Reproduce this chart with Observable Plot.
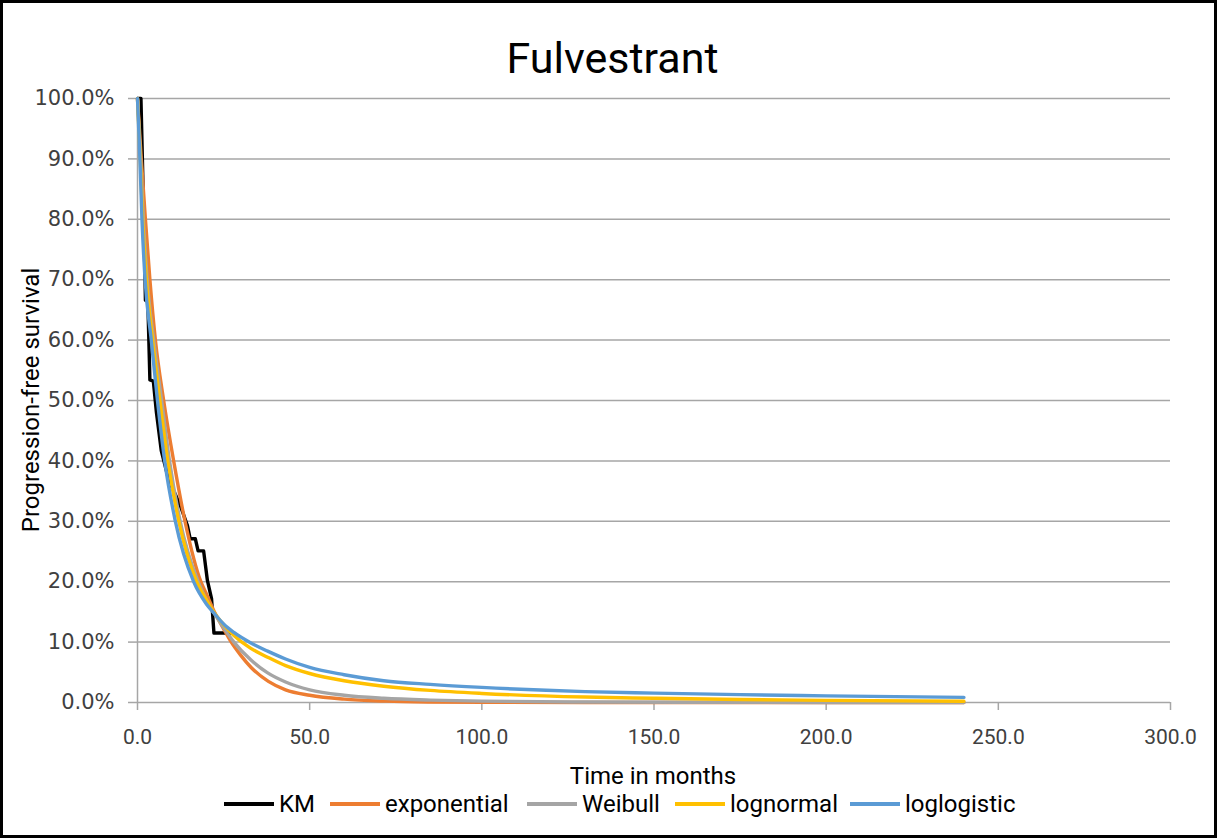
<!DOCTYPE html>
<html><head><meta charset="utf-8">
<script src="https://cdn.jsdelivr.net/npm/d3@7"></script>
<script src="https://cdn.jsdelivr.net/npm/@observablehq/plot@0.6"></script>
<style>
html,body{margin:0;padding:0;background:#fff;}
#wrap{position:relative;width:1217px;height:838px;overflow:hidden;background:#fff;}
#chart{position:absolute;left:0;top:0;}
#border{position:absolute;left:0;top:0;width:1217px;height:838px;box-sizing:border-box;border:3px solid #000;pointer-events:none;}
.title{position:absolute;left:0;width:1225px;top:30px;text-align:center;font-family:Roboto,"Noto Sans",sans-serif;font-size:43px;color:#000;line-height:56px;}
.ylab{position:absolute;left:31px;top:400px;transform:translate(-50%,-50%) rotate(-90deg);white-space:nowrap;font-family:Roboto,"Noto Sans",sans-serif;font-size:24px;color:#000;}
.xlab{position:absolute;left:0;width:1306px;top:761px;text-align:center;font-family:Roboto,"Noto Sans",sans-serif;font-size:24px;color:#000;line-height:30px;}
#legend{position:absolute;left:0;top:789px;width:1217px;height:30px;font-family:Roboto,"Noto Sans",sans-serif;font-size:24px;color:#000;}
.item{position:absolute;top:0;display:flex;align-items:center;height:30px;white-space:nowrap;}
.sw{display:inline-block;width:50px;height:4px;margin-right:5px;}
</style>
</head><body>
<div id="wrap">
  <div id="chart"></div>
  <div class="title">Fulvestrant</div>
  <div class="ylab">Progression-free survival</div>
  <div class="xlab">Time in months</div>
  <div id="legend"></div>
  <div id="border"></div>
</div>
<script>
// Kaplan-Meier (months, % surviving)
const kmTime = [0, 1.0, 1.5, 2.2, 2.3, 3.0, 3.6, 4.6, 5.5, 6.9, 9, 12.5, 14.5, 15.3, 16.8, 17.6, 19.2, 20.3, 21.5, 22.2, 27.3];
const kmSurv = [100, 100, 88, 70, 66.6, 66.4, 53.4, 53.2, 48, 41.7, 37, 32.5, 29.3, 27.1, 27.1, 25.1, 25.1, 20.2, 17.2, 11.5, 11.5];

const expTime = [0, 1.1, 2.3, 3.6, 5.2, 7.6, 10.5, 13.8, 18.4, 20, 22.5, 25, 27, 30, 33, 38, 43, 50, 60, 72, 85, 100, 130, 180, 240];
const expSurv = [100, 90, 80, 70, 60, 50, 40, 30, 20, 18, 14.8, 12.2, 10.2, 7.8, 5.8, 3.5, 2.1, 1.2, 0.55, 0.22, 0.08, 0.03, 0.01, 0, 0];

const weiTime = [0, 0.9, 1.7, 2.8, 4.7, 7.0, 9.3, 12.4, 17.6, 20, 22.5, 25, 28, 32.8, 37.8, 43, 50, 60, 71.5, 85, 100, 130, 160, 200, 240];
const weiSurv = [100, 90, 80, 70, 60, 50, 40, 30, 20, 17, 14.6, 12.4, 10, 7.1, 4.9, 3.4, 2.1, 1.2, 0.7, 0.4, 0.22, 0.08, 0.03, 0.01, 0];

const lnTime = [0, 0.8, 1.5, 2.6, 4.4, 6.5, 8.8, 12, 17.2, 20, 22.5, 25, 28, 32.8, 37.8, 43, 50, 60, 71.5, 85, 100, 130, 150, 175, 200, 240];
const lnSurv = [100, 90, 80, 70, 60, 50, 40, 30, 20, 17, 14.7, 12.9, 11.1, 9.0, 7.5, 6.1, 4.8, 3.6, 2.7, 2.0, 1.5, 0.9, 0.7, 0.5, 0.35, 0.2];

const llTime = [0, 0.7, 1.3, 2.2, 4.0, 5.8, 7.9, 11, 16.3, 20, 22.5, 25, 28, 32.8, 37.8, 43, 50, 60, 71.5, 85, 100, 130, 150, 175, 200, 240];
const llSurv = [100, 90, 80, 70, 60, 50, 40, 30, 20, 16.3, 14.6, 13.0, 11.6, 9.9, 8.5, 7.2, 5.8, 4.6, 3.6, 3.0, 2.5, 1.8, 1.55, 1.3, 1.1, 0.85];

const seriesNames = ["KM", "exponential", "Weibull", "lognormal", "loglogistic"];
const seriesColors = ["#000000", "#ED7D31", "#A5A5A5", "#FFC000", "#5B9BD5"];
const xTicks = [0, 50, 100, 150, 200, 250, 300];
const yTicks = [0, 10, 20, 30, 40, 50, 60, 70, 80, 90, 100];

const toRows = (t, s) => t.map((d, i) => ({t: d, s: s[i]}));
const sets = [toRows(kmTime, kmSurv), toRows(expTime, expSurv), toRows(weiTime, weiSurv), toRows(lnTime, lnSurv), toRows(llTime, llSurv)];

const grid = "#A6A6A6";
const marks = [
  Plot.gridY(yTicks, {stroke: grid, strokeOpacity: 1, strokeWidth: 1.5}),
  Plot.ruleX([0], {stroke: grid, strokeWidth: 1.5}),
  Plot.axisY(yTicks, {tickSize: 9, tickPadding: 14, tickFormat: d => d.toFixed(1) + "%", fontSize: 21, fontFamily: "DejaVu Sans", fill: "#404040", stroke: grid, strokeWidth: 1.5, label: null}),
  Plot.axisX(xTicks, {tickSize: 8, tickPadding: 19, tickFormat: d => d.toFixed(1), fontSize: 21, fontFamily: "Roboto", fill: "#404040", stroke: grid, strokeWidth: 1.5, label: null})
];
sets.forEach((rows, i) => {
  marks.push(Plot.line(rows, {x: "t", y: "s", stroke: seriesColors[i], strokeWidth: 3.4,
    curve: i === 0 ? "linear" : "monotone-x", strokeLinejoin: "round"}));
});

const chart = Plot.plot({
  width: 1217, height: 838,
  marginLeft: 137, marginRight: 47, marginTop: 98, marginBottom: 136,
  x: {domain: [0, 300]},
  y: {domain: [0, 100]},
  style: {background: "transparent"},
  marks
});
document.getElementById("chart").appendChild(chart);

const legendX = [224, 330, 527, 675, 850];
const leg = document.getElementById("legend");
seriesNames.forEach((n, i) => {
  const it = document.createElement("div");
  it.className = "item";
  it.style.left = legendX[i] + "px";
  const sw = document.createElement("span");
  sw.className = "sw";
  sw.style.background = seriesColors[i];
  it.appendChild(sw);
  it.appendChild(document.createTextNode(n));
  leg.appendChild(it);
});
</script>
</body></html>
